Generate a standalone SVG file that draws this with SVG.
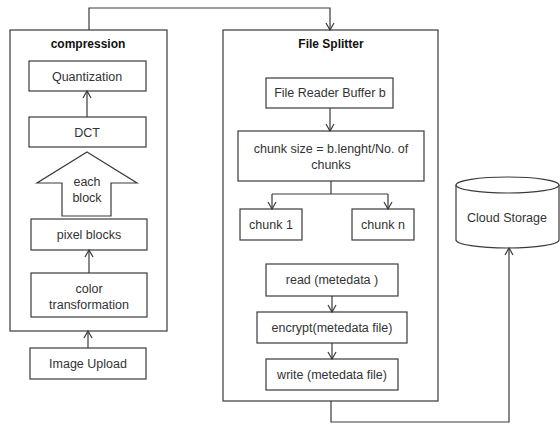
<svg xmlns="http://www.w3.org/2000/svg" width="560" height="428" viewBox="0 0 560 428">
<defs>
<style>
.box{fill:#fff;stroke:#3a3a3a;stroke-width:1.2}
.t{font-family:"Liberation Sans",Arial,sans-serif;font-size:12.5px;fill:#333;text-anchor:middle}
.h{font-family:"Liberation Sans",Arial,sans-serif;font-size:12px;font-weight:bold;fill:#111;text-anchor:middle}
.c{fill:none;stroke:#3a3a3a;stroke-width:1.2}
</style>
<marker id="ah" markerWidth="10" markerHeight="10" refX="8" refY="5" orient="auto" markerUnits="userSpaceOnUse">
<path d="M1,1 L8,5 L1,9" fill="none" stroke="#3a3a3a" stroke-width="1.2"/>
</marker>
</defs>
<rect width="560" height="428" fill="#fff"/>
<g id="compression">
<rect class="box" x="10" y="30" width="157" height="301"/>
<text class="h" x="88" y="48">compression</text>
</g>
<g id="quantization">
<rect class="box" x="29" y="61" width="117" height="30"/>
<text class="t" x="87" y="81">Quantization</text>
</g>
<g id="dct">
<rect class="box" x="29" y="117" width="117" height="30"/>
<text class="t" x="87" y="137">DCT</text>
</g>
<g id="each-block">
<path class="box" d="M87,152 L137,183 L111,183 L111,216 L62,216 L62,183 L37,183 Z"/>
<text class="t" x="87" y="186">each</text>
<text class="t" x="87" y="202">block</text>
</g>
<g id="pixel-blocks">
<rect class="box" x="31" y="219" width="116" height="31"/>
<text class="t" x="89" y="239">pixel blocks</text>
</g>
<g id="color-transformation">
<rect class="box" x="31" y="273" width="116" height="44"/>
<text class="t" x="89" y="293">color</text>
<text class="t" x="89" y="309">transformation</text>
</g>
<g id="image-upload">
<rect class="box" x="30" y="348" width="116" height="31"/>
<text class="t" x="88" y="368">Image Upload</text>
</g>
<g id="file-splitter">
<rect class="box" x="223" y="30" width="215" height="371"/>
<text class="h" x="331" y="48">File Splitter</text>
</g>
<g id="file-reader">
<rect class="box" x="266" y="78" width="127" height="30"/>
<text class="t" x="330" y="97">File Reader Buffer b</text>
</g>
<g id="chunk-size">
<rect class="box" x="238" y="131" width="186" height="50"/>
<text class="t" x="331" y="153">chunk size = b.lenght/No. of</text>
<text class="t" x="331" y="169">chunks</text>
</g>
<g id="chunk1">
<rect class="box" x="240" y="209" width="62" height="31"/>
<text class="t" x="271" y="229">chunk 1</text>
</g>
<g id="chunkn">
<rect class="box" x="352" y="209" width="62" height="31"/>
<text class="t" x="383" y="229">chunk n</text>
</g>
<g id="read">
<rect class="box" x="266" y="264" width="132" height="32"/>
<text class="t" x="332" y="284">read (metedata )</text>
</g>
<g id="encrypt">
<rect class="box" x="257" y="312" width="150" height="31"/>
<text class="t" x="332" y="332">encrypt(metedata file)</text>
</g>
<g id="write">
<rect class="box" x="266" y="359" width="132" height="31"/>
<text class="t" x="332" y="379">write (metedata file)</text>
</g>
<g id="cloud-storage">
<path class="box" d="M456,185 L456,240 A51.5,8 0 0 0 559,240 L559,185"/>
<ellipse class="box" cx="507.5" cy="185" rx="51.5" ry="8"/>
<text class="t" x="507" y="222">Cloud Storage</text>
</g>
<g id="connectors">
<path class="c" d="M87,117 L87,91" marker-end="url(#ah)"/>
<path class="c" d="M89,273 L89,250" marker-end="url(#ah)"/>
<path class="c" d="M88,348 L88,331" marker-end="url(#ah)"/>
<path class="c" d="M89,30 L89,8 L330,8 L330,30" marker-end="url(#ah)"/>
<path class="c" d="M330,108 L330,131" marker-end="url(#ah)"/>
<path class="c" d="M331,181 L331,194"/>
<path class="c" d="M272,194 L388,194"/>
<path class="c" d="M272,194 L272,209" marker-end="url(#ah)"/>
<path class="c" d="M388,194 L388,209" marker-end="url(#ah)"/>
<path class="c" d="M332,296 L332,312" marker-end="url(#ah)"/>
<path class="c" d="M332,343 L332,359" marker-end="url(#ah)"/>
<path class="c" d="M331,401 L331,422 L509,422 L509,248" marker-end="url(#ah)"/>
</g>
</svg>
